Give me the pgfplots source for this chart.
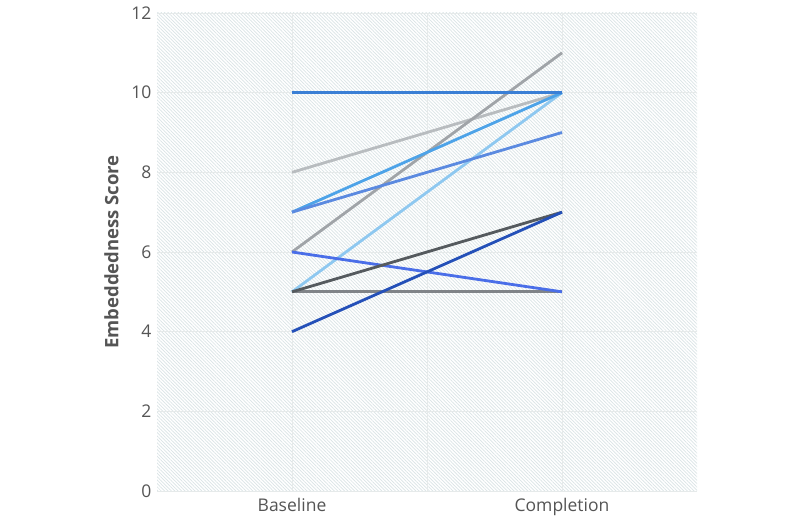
\documentclass[border=0pt]{standalone}
\usepackage{pgfplots}
\pgfplotsset{compat=1.18}
\usepackage{fontspec}
\setmainfont{Open Sans}
\usetikzlibrary{patterns.meta}
\definecolor{c1}{HTML}{3A7FD5}
\definecolor{c2}{HTML}{B8BCBF}
\definecolor{c3}{HTML}{4DA3E8}
\definecolor{c4}{HTML}{5B8AE0}
\definecolor{c5}{HTML}{A0A4A8}
\definecolor{c6}{HTML}{8EC8F0}
\definecolor{c7}{HTML}{4A6EE8}
\definecolor{c8}{HTML}{555A5E}
\definecolor{c9}{HTML}{2450B8}
\definecolor{c10}{HTML}{808488}
\definecolor{txt}{HTML}{555555}
\definecolor{gridc}{HTML}{E6EAEA}
\definecolor{hatch}{HTML}{DAE4E6}
\begin{document}
\begin{tikzpicture}
\useasboundingbox (0,0) rectangle (800pt,530pt);
\begin{axis}[
  at={(157pt,39pt)}, anchor=south west,
  scale only axis, width=540pt, height=478pt,
  xmin=-0.5, xmax=1.5, ymin=0, ymax=12,
  xtick={0,1}, xticklabels={Baseline,Completion},
  extra x ticks={0.5}, extra x tick labels={},
  ytick={0,2,...,12},
  grid=major, grid style={gridc, line width=0.9pt},
  axis line style={draw=none},
  tick style={draw=none},
  ticklabel style={font=\fontsize{17.5}{20}\selectfont, text=txt},
  xticklabel style={yshift=-4pt},
  yticklabel style={xshift=-2pt},
  /pgf/number format/assume math mode=true,
  ylabel={\textbf{Embeddedness Score}},
  ylabel style={font=\fontsize{18.5}{22}\selectfont, text=txt, yshift=6pt},
  axis background/.style={fill=white, postaction={pattern={Lines[angle=-45,distance=2.4pt,line width=0.7pt]}, pattern color=hatch}},
  every axis plot/.append style={line width=2.8pt, mark=none},
  clip=false,
]
\addplot[c10] coordinates {(0,5) (1,5)};
\addplot[c2] coordinates {(0,8) (1,10)};
\addplot[c5] coordinates {(0,6) (1,11)};
\addplot[c6] coordinates {(0,5) (1,10)};
\addplot[c3] coordinates {(0,7) (1,10)};
\addplot[c4] coordinates {(0,7) (1,9)};
\addplot[c7] coordinates {(0,6) (1,5)};
\addplot[c8] coordinates {(0,5) (1,7)};
\addplot[c9] coordinates {(0,4) (1,7)};
\addplot[c1] coordinates {(0,10) (1,10)};
\end{axis}
\end{tikzpicture}
\end{document}
